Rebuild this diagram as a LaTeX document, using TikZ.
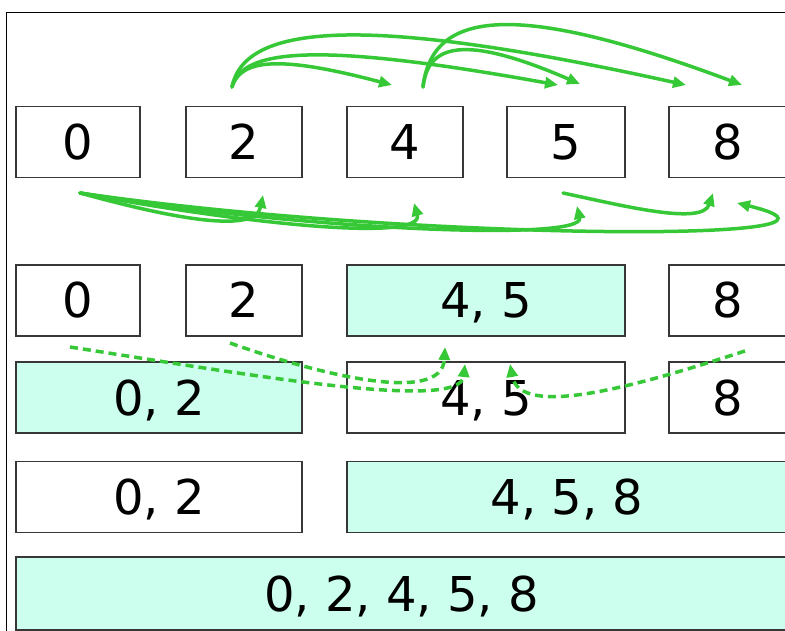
\documentclass[tikz,border=0pt]{standalone}
\usepackage{fontspec}
\setmainfont{DejaVu Sans}
\usetikzlibrary{arrows.meta}

\definecolor{cellfill}{RGB}{204,255,238}
\definecolor{cellline}{RGB}{55,55,55}
\definecolor{linkgreen}{RGB}{54,200,54}

\tikzset{
  cell/.style={draw=cellline, line width=1.5pt, inner sep=0pt,
    minimum height=71pt, text height=35pt, text depth=0pt,
    font=\fontsize{48}{56}\selectfont},
  merged/.style={cell, fill=cellfill},
  link/.style={draw=linkgreen, line width=3.5pt, line cap=round,
    -{Triangle[length=13pt,width=11pt]}},
  dashlink/.style={link, line cap=butt, dash pattern=on 8pt off 5pt}
}

\begin{document}
\begin{tikzpicture}[x=1pt,y=-1pt]
  \useasboundingbox (0,0) rectangle (785,631);
  \fill[white] (0,0) rectangle (785,631);
  \clip (0,0) rectangle (785,631);

  % frame
  \draw[black, line width=1.5pt] (6.5,631) -- (6.5,12.5) -- (785,12.5);

  % row 1: single values
  \node[cell, minimum width=124pt] (a0) at (78,142)    {0};
  \node[cell, minimum width=116pt] (a2) at (244,142)   {2};
  \node[cell, minimum width=116pt] (a4) at (405,142)   {4};
  \node[cell, minimum width=118pt] (a5) at (566,142)   {5};
  \node[cell, minimum width=118pt] (a8) at (728,142)   {8};

  % row 2
  \node[cell,   minimum width=124pt] (b0)  at (78,300.5)  {0};
  \node[cell,   minimum width=116pt] (b2)  at (244,300.5) {2};
  \node[merged, minimum width=278pt] (b45) at (486,300.5) {4, 5};
  \node[cell,   minimum width=118pt] (b8)  at (728,300.5) {8};

  % row 3
  \node[merged, minimum width=286pt] (c02) at (159,397.5) {0, 2};
  \node[cell,   minimum width=278pt] (c45) at (486,397.5) {4, 5};
  \node[cell,   minimum width=118pt] (c8)  at (728,397.5) {8};

  % row 4
  \node[cell,   minimum width=286pt] (d02)  at (159,497) {0, 2};
  \node[merged, minimum width=440pt] (d458) at (567,497) {4, 5, 8};

  % row 5
  \node[merged, minimum width=771pt, minimum height=73pt] (e) at (401.5,593.5) {0, 2, 4, 5, 8};

  % end points of the comparison arrows above row 1
  \coordinate (up2)  at (232,87);
  \coordinate (up4)  at (423,87);
  \coordinate (to4)  at (392,85);
  \coordinate (to5a) at (558,85);
  \coordinate (to5b) at (580,84);
  \coordinate (to8a) at (686,85);
  \coordinate (to8b) at (742,85);

  \draw[link] (up2) .. controls (241,58) and (282,56) .. (to4);
  \draw[link] (up2) .. controls (242,48) and (320,42) .. (to5a);
  \draw[link] (up2) .. controls (245,22) and (370,15) .. (to8a);
  \draw[link] (up4) .. controls (428,45) and (462,33) .. (to5b);
  \draw[link] (up4) .. controls (432,10) and (515,0) .. (to8b);

  % end points of the comparison arrows below row 1
  \coordinate (dn0)  at (80,193);
  \coordinate (dn5)  at (563,193);
  \coordinate (at2)  at (263,195);
  \coordinate (at4)  at (414,203);
  \coordinate (at5)  at (577,206);
  \coordinate (at8a) at (713,193);
  \coordinate (at8b) at (737,203);

  \draw[link] (dn0) .. controls (160,215) and (255,236) .. (at2);
  \draw[link] (dn0) .. controls (250,225) and (425,242) .. (at4);
  \draw[link] (dn0) .. controls (300,230) and (585,242) .. (at5);
  \draw[link] (dn0) .. controls (400,240) and (905,244) .. (at8b);
  \draw[link] (dn5) .. controls (620,205) and (702,226) .. (at8a);

  % merge moves between rows 2 and 3
  \coordinate (from0) at (70,347);
  \coordinate (from2) at (230,343);
  \coordinate (from8) at (745,351);
  \coordinate (in45a) at (445,347);
  \coordinate (in45b) at (465,364);
  \coordinate (in45c) at (510,364);

  \draw[dashlink] (from0) .. controls (250,375) and (460,412) .. (in45b);
  \draw[dashlink] (from2) .. controls (320,375) and (442,405) .. (in45a);
  \draw[dashlink] (from8) .. controls (640,385) and (520,420) .. (in45c);
\end{tikzpicture}
\end{document}
